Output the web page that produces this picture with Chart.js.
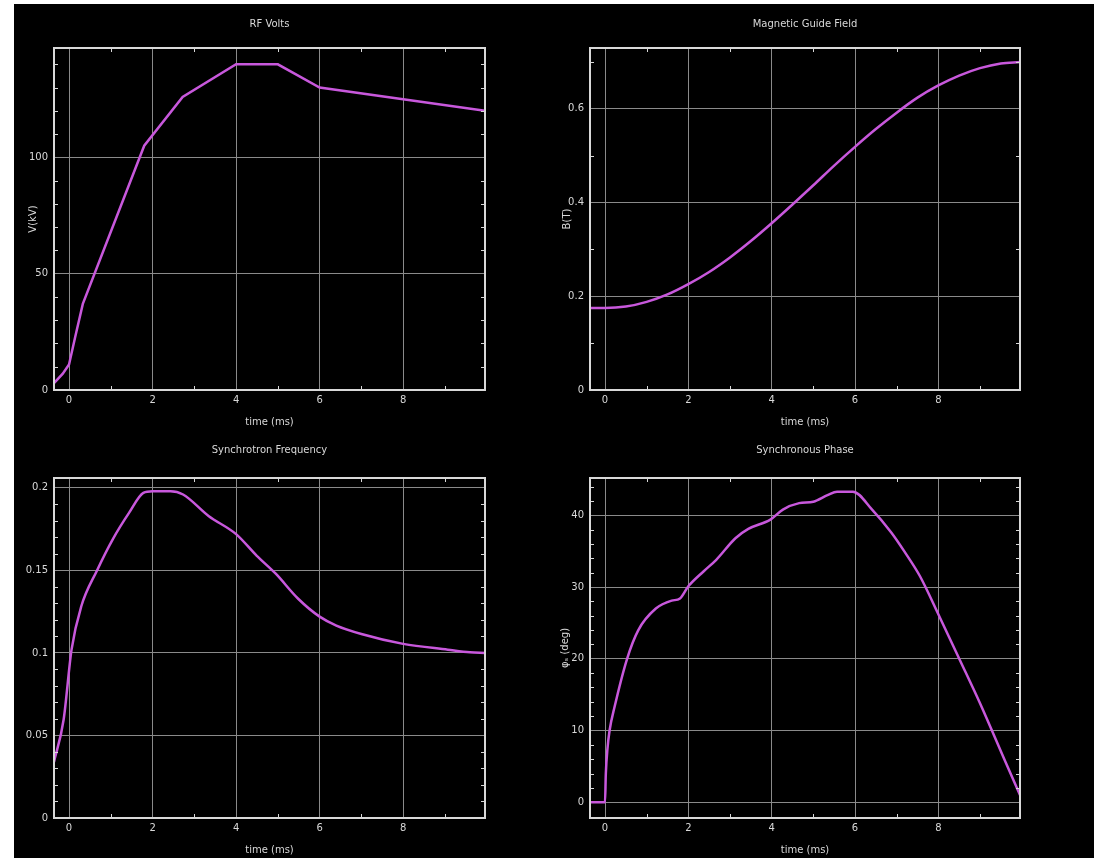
<!DOCTYPE html>
<html>
<head>
<meta charset="utf-8">
<script src="https://cdn.jsdelivr.net/npm/chart.js@4.4.1/dist/chart.umd.min.js"></script>
<style>
  body { margin: 0; background: #fff; width: 1094px; height: 858px; overflow: hidden; }
  #board { position: absolute; left: 14px; top: 4px; width: 1080px; height: 854px; background: #000; }
  canvas { position: absolute; }
</style>
</head>
<body>
<div id="board"></div>
<canvas id="pfChart" width="533" height="430" style="left:14px;top:4px"></canvas>
<canvas id="fieldChart" width="547" height="430" style="left:547px;top:4px"></canvas>
<canvas id="freqChart" width="533" height="424" style="left:14px;top:434px"></canvas>
<canvas id="phaseChart" width="547" height="424" style="left:547px;top:434px"></canvas>
<script>
// x axis (time in ms), shared by all four panels
const timeTicks = [0, 2, 4, 6, 8];
const timeMinor = [1, 3, 5, 7, 9];

// RF volts
const pfTime = [-0.36, -0.15, 0, 0.15, 0.33, 1.8, 2.72, 4.0, 5.0, 6.0, 9.96];
const pfVolts = [3, 7, 11, 23, 37, 105, 126, 140, 140, 130, 120];
const voltTicks = [0, 50, 100];
const voltMinor = [10, 20, 30, 40, 60, 70, 80, 90, 110, 120, 130, 140];

// magnetic guide field
const fieldTime = [-0.36, 0, 0.5, 1, 1.5, 2, 2.5, 3, 3.5, 4, 4.5, 5, 5.5, 6, 6.5, 7, 7.5, 8, 8.5, 9, 9.5, 9.96];
const fieldB = [0.175, 0.175, 0.178, 0.188, 0.204, 0.226, 0.252, 0.283, 0.318, 0.356, 0.396, 0.437,
  0.479, 0.519, 0.557, 0.592, 0.624, 0.650, 0.671, 0.687, 0.697, 0.700];
const fieldTicks = [0, 0.2, 0.4, 0.6];
const fieldMinor = [0.1, 0.3, 0.5, 0.7];

// synchrotron frequency
const freqTime = [-0.36, -0.13, 0.06, 0.29, 0.67, 1.05, 1.44, 1.78, 2.0, 2.43, 2.73, 3.34, 4.0,
  4.49, 4.95, 5.48, 6.0, 6.4, 7.0, 8.0, 9.07, 9.6, 9.96];
const freqVals = [0.034, 0.0595, 0.102, 0.128, 0.150, 0.169, 0.185, 0.197, 0.198, 0.198, 0.196, 0.183, 0.172,
  0.159, 0.148, 0.133, 0.122, 0.1166, 0.1115, 0.1055, 0.102, 0.1004, 0.1];
const freqTicks = [0, 0.05, 0.1, 0.15, 0.2];
const freqMinor = [0.01, 0.02, 0.03, 0.04, 0.06, 0.07, 0.08, 0.09, 0.11, 0.12, 0.13, 0.14,
  0.16, 0.17, 0.18, 0.19];

// synchronous phase
const phaseTime = [-0.36, 0, 0.02, 0.06, 0.11, 0.23, 0.53, 0.8, 1.22, 1.6, 1.8, 2.0, 2.37, 2.67, 3.13, 3.44,
  3.97, 4.27, 4.66, 5.0, 5.34, 5.57, 5.95, 6.41, 6.87, 7.18, 7.56, 8.0, 8.51, 9.0, 9.62, 9.96];
const phaseDeg = [0, 0, 4, 7.5, 10, 13.3, 20, 24, 27, 28.1, 28.4, 30.1, 32.2, 33.8, 36.8, 38.1,
  39.4, 40.8, 41.7, 41.9, 42.8, 43.3, 43.3, 40.8, 37.6, 35, 31.5, 26.2, 19.9, 13.8, 5.5, 1];
const phaseTicks = [0, 10, 20, 30, 40];
const phaseMinor = [-2, 2, 4, 6, 8, 12, 14, 16, 18, 22, 24, 26, 28, 32, 34, 36, 38, 42, 44];

const lineColor = '#c858dc';
const textColor = '#d8d8d8';
const gridColor = '#8a8a8a';
const font = { family: 'DejaVu Sans', size: 10, lineHeight: 1.2, weight: 'normal' };

// box round the plot area plus the small inward ticks on every edge
const frameTicks = {
  id: 'frameTicks',
  afterDatasetsDraw(chart, args, opts) {
    const { ctx, chartArea: a, scales: { x, y } } = chart;
    ctx.save();
    ctx.strokeStyle = textColor;
    ctx.lineWidth = 1;
    ctx.beginPath();
    opts.xMinor.forEach(v => {
      const px = Math.round(x.getPixelForValue(v)) + 0.5;
      ctx.moveTo(px, a.bottom); ctx.lineTo(px, a.bottom - 4);
      ctx.moveTo(px, a.top); ctx.lineTo(px, a.top + 4);
    });
    opts.yMinor.forEach(v => {
      const py = Math.round(y.getPixelForValue(v)) + 0.5;
      ctx.moveTo(a.left, py); ctx.lineTo(a.left + 4, py);
      ctx.moveTo(a.right, py); ctx.lineTo(a.right - 4, py);
    });
    ctx.stroke();
    ctx.lineWidth = 2;
    ctx.strokeRect(a.left, a.top, a.right - a.left, a.bottom - a.top);
    ctx.restore();
  }
};

function panel(id, p) {
  return new Chart(document.getElementById(id), {
    type: 'line',
    data: {
      datasets: [{
        data: p.xs.map((t, i) => ({ x: t, y: p.ys[i] })),
        borderColor: lineColor,
        borderWidth: 2.5,
        pointRadius: 0,
        tension: 0,
        cubicInterpolationMode: p.smooth ? 'monotone' : 'default'
      }]
    },
    options: {
      responsive: false,
      animation: false,
      devicePixelRatio: 1,
      layout: { padding: { left: 0, right: p.right, top: 0, bottom: 0 } },
      plugins: {
        legend: { display: false },
        tooltip: { enabled: false },
        title: {
          display: true,
          text: p.title,
          color: textColor,
          font: font,
          fullSize: false,
          padding: { top: p.titleTop, bottom: 44 - p.titleTop - 12 }
        },
        frameTicks: { xMinor: timeMinor, yMinor: p.yMinor }
      },
      scales: {
        x: {
          type: 'linear',
          min: -0.36,
          max: 9.96,
          afterBuildTicks: s => { s.ticks = timeTicks.map(v => ({ value: v })); },
          afterFit: s => { s.height = p.xHeight; },
          ticks: { color: textColor, font: font, padding: 4, maxRotation: 0, callback: v => String(v) },
          grid: { color: gridColor, lineWidth: 1, drawTicks: false },
          border: { display: false },
          title: { display: true, text: 'time (ms)', color: textColor, font: font, padding: { top: 0, bottom: p.xTitlePad } }
        },
        y: {
          min: p.yMin,
          max: p.yMax,
          afterBuildTicks: s => { s.ticks = p.yTicks.map(v => ({ value: v })); },
          afterFit: s => { s.width = p.yWidth; },
          ticks: { color: textColor, font: font, padding: 6, callback: v => String(v) },
          grid: { color: gridColor, lineWidth: 1, drawTicks: false },
          border: { display: false },
          title: { display: !!p.yLabel, text: p.yLabel, color: textColor, font: font, padding: { top: p.yTitlePad, bottom: 0 } }
        }
      }
    },
    plugins: [frameTicks]
  });
}

panel('pfChart', {
  title: 'RF Volts', xs: pfTime, ys: pfVolts, smooth: false,
  yMin: 0, yMax: 147, yTicks: voltTicks, yMinor: voltMinor, yLabel: 'V(kV)',
  yWidth: 40, right: 62, titleTop: 14, xHeight: 44, xTitlePad: 6, yTitlePad: 13
});
panel('fieldChart', {
  title: 'Magnetic Guide Field', xs: fieldTime, ys: fieldB, smooth: true,
  yMin: 0, yMax: 0.73, yTicks: fieldTicks, yMinor: fieldMinor, yLabel: 'B(T)',
  yWidth: 43, right: 74, titleTop: 14, xHeight: 44, xTitlePad: 6, yTitlePad: 14
});
panel('freqChart', {
  title: 'Synchrotron Frequency', xs: freqTime, ys: freqVals, smooth: true,
  yMin: 0, yMax: 0.206, yTicks: freqTicks, yMinor: freqMinor, yLabel: '',
  yWidth: 40, right: 62, titleTop: 10, xHeight: 40, xTitlePad: 2, yTitlePad: 0
});
panel('phaseChart', {
  title: 'Synchronous Phase', xs: phaseTime, ys: phaseDeg, smooth: true,
  yMin: -2.2, yMax: 45.2, yTicks: phaseTicks, yMinor: phaseMinor, yLabel: 'φₛ (deg)',
  yWidth: 43, right: 74, titleTop: 10, xHeight: 40, xTitlePad: 2, yTitlePad: 12
});
</script>
</body>
</html>
